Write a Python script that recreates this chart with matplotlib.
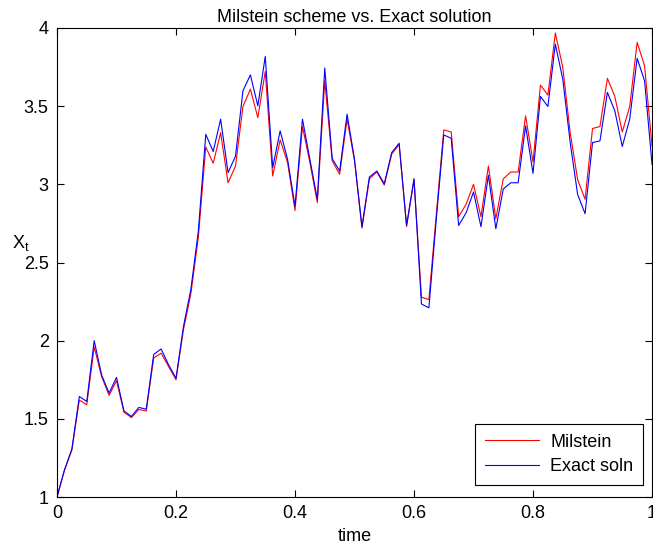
import numpy as np
import matplotlib
matplotlib.use("Agg")
import matplotlib.pyplot as plt

plt.rcParams['font.family'] = ['Liberation Sans', 'DejaVu Sans']
plt.rcParams['font.size'] = 13

# time grid: 80 steps on [0, 1]
n_steps = 80
t = np.linspace(0, 1, n_steps + 1)

# exact solution (blue)
exact = [1.0, 1.173, 1.308, 1.643, 1.611, 2.0, 1.78, 1.665, 1.765, 1.551,
         1.515, 1.573, 1.562, 1.912, 1.947, 1.846, 1.76, 2.09, 2.33, 2.70,
         3.32, 3.21, 3.417, 3.075, 3.18, 3.598, 3.70, 3.502, 3.818, 3.107,
         3.342, 3.16, 2.861, 3.417, 3.16, 2.904, 3.744, 3.165, 3.085, 3.449,
         3.16, 2.729, 3.047, 3.085, 3.004, 3.203, 3.263, 2.737, 3.036, 2.235,
         2.21, 2.78, 3.316, 3.295, 2.737, 2.818, 2.951, 2.729, 3.058, 2.716,
         2.97, 3.01, 3.01, 3.374, 3.07, 3.562, 3.498, 3.897, 3.673, 3.267,
         2.935, 2.812, 3.267, 3.278, 3.588, 3.47, 3.242, 3.417, 3.806, 3.662,
         3.128]

# Milstein approximation (red)
milstein = [1.0, 1.17, 1.30, 1.62, 1.59, 1.96, 1.77, 1.65, 1.744, 1.543,
            1.508, 1.56, 1.55, 1.889, 1.92, 1.835, 1.75, 2.07, 2.30, 2.66,
            3.239, 3.135, 3.33, 3.01, 3.117, 3.498, 3.609, 3.427, 3.722, 3.053,
            3.284, 3.139, 2.833, 3.37, 3.139, 2.883, 3.662, 3.15, 3.064, 3.417,
            3.15, 2.72, 3.035, 3.08, 2.995, 3.193, 3.255, 2.73, 3.03, 2.278,
            2.263, 2.81, 3.348, 3.335, 2.793, 2.872, 3.0, 2.793, 3.117, 2.78,
            3.035, 3.079, 3.079, 3.438, 3.143, 3.635, 3.571, 3.968, 3.748, 3.33,
            3.03, 2.904, 3.357, 3.37, 3.678, 3.562, 3.335, 3.498, 3.908, 3.758,
            3.246]

fig = plt.figure(figsize=(6.53, 5.49), dpi=100)
ax = fig.add_axes([0.0873, 0.0947, 0.9112, 0.8543])

ax.plot(t, milstein, color='red', lw=0.8, label='Milstein')
ax.plot(t, exact, color='blue', lw=0.8, label='Exact soln')

ax.set_xlim(0, 1)
ax.set_ylim(1, 4)
ax.set_xticks([0, 0.2, 0.4, 0.6, 0.8, 1])
ax.set_xticklabels(['0', '0.2', '0.4', '0.6', '0.8', '1'])
ax.set_yticks([1, 1.5, 2, 2.5, 3, 3.5, 4])
ax.set_yticklabels(['1', '1.5', '2', '2.5', '3', '3.5', '4'])
ax.tick_params(direction='in', top=True, right=True, length=5, width=0.8,
               pad=6)

ax.set_title('Milstein scheme vs. Exact solution', fontsize=13, pad=4)
ax.set_xlabel('time', labelpad=4)
ax.set_ylabel(r'X$_\mathregular{t}$', rotation=0, labelpad=10)
ax.yaxis.set_label_coords(-0.06, 0.52)

leg = ax.legend(loc='lower right', fancybox=False, edgecolor='black',
                framealpha=1, handlelength=3.0, handletextpad=0.6,
                labelspacing=0.4, borderpad=0.55, borderaxespad=0,
                bbox_to_anchor=(0.985, 0.026))
leg.get_frame().set_linewidth(0.8)

fig.savefig('out.png', dpi=100)
